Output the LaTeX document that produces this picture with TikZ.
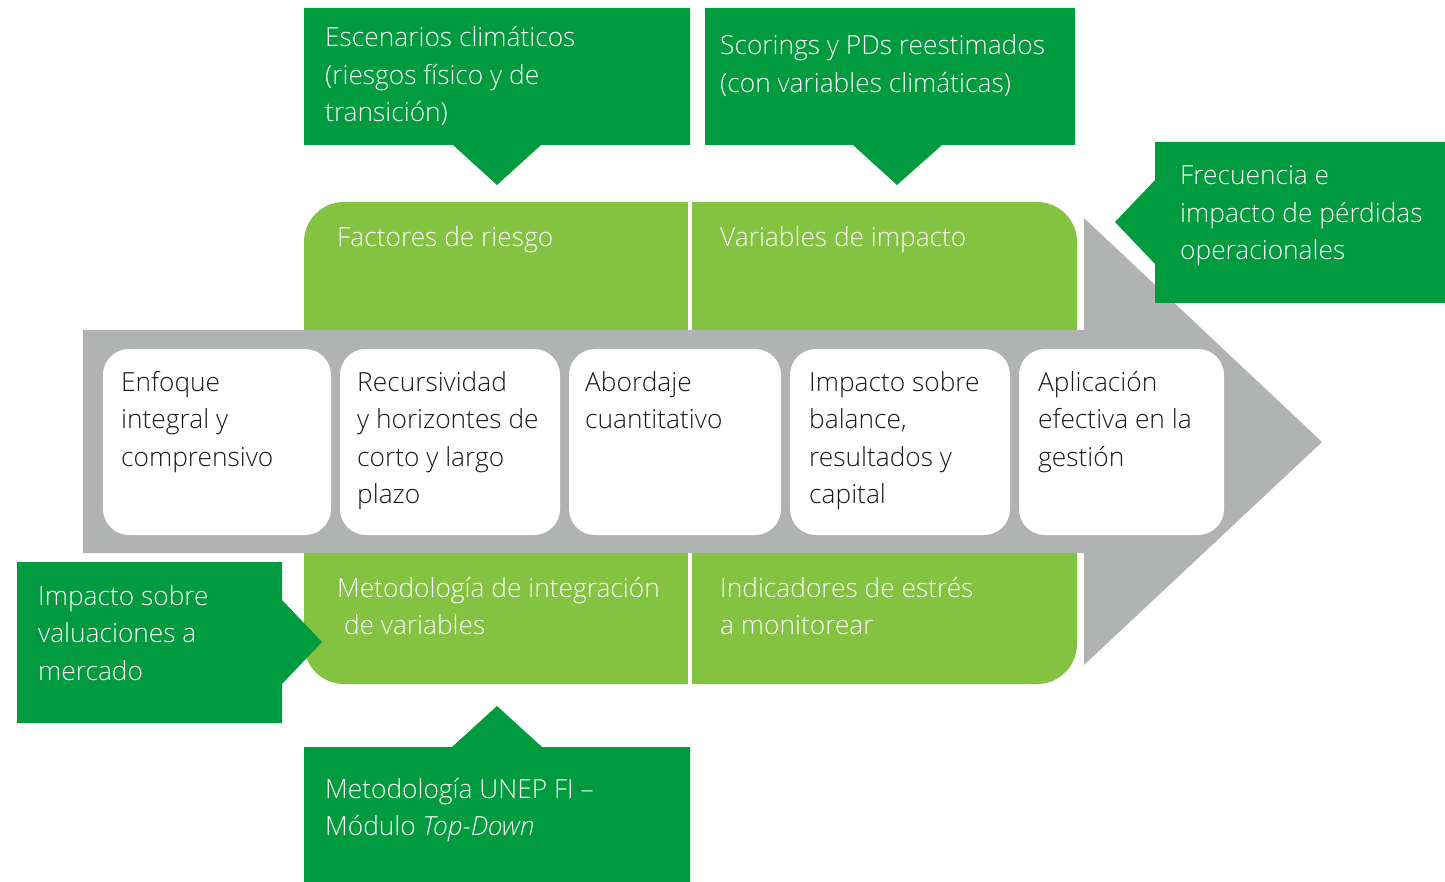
\documentclass[tikz,border=0pt]{standalone}
\usepackage{fontspec}
\setmainfont{Open Sans}[UprightFont={* Light}, ItalicFont={* Light Italic}, BoldFont={*}]
\definecolor{dgreen}{HTML}{009B3E}
\definecolor{lgreen}{HTML}{84C341}
\definecolor{agray}{HTML}{B1B3B3}
\definecolor{ink}{HTML}{1A1A1A}
\tikzset{
  callout/.style={fill=dgreen},
  panel/.style={fill=lgreen, rounded corners=40pt},
  arrowbody/.style={fill=agray},
  stagebox/.style={fill=white, rounded corners=26pt},
  txt/.style={anchor=base west, inner sep=0pt, align=left, font=\fontsize{26.3}{37.5}\selectfont},
  wtxt/.style={txt, text=white},
  ktxt/.style={txt, text=ink},
}
\begin{document}
\begin{tikzpicture}[x=1pt, y=-1pt]
\useasboundingbox (0,0) rectangle (1445,882);
% light green panels
\fill[panel] (304,202) rectangle (1077,684);
\fill[white] (688,202) rectangle (692,684);
% grey arrow
\fill[arrowbody] (83,330) -- (1084,330) -- (1084,218) -- (1322,442) -- (1084,665) -- (1084,553) -- (83,553) -- cycle;
% white stage boxes
\fill[stagebox] (103,349) rectangle (331,535);
\fill[stagebox] (340,349) rectangle (560,535);
\fill[stagebox] (569,349) rectangle (781,535);
\fill[stagebox] (790,349) rectangle (1010,535);
\fill[stagebox] (1019,349) rectangle (1224,535);
% dark green callouts
\fill[callout] (304,8) -- (690,8) -- (690,145) -- (541,145) -- (497,185) -- (453,145) -- (304,145) -- cycle;
\fill[callout] (705,8) -- (1075,8) -- (1075,145) -- (942,145) -- (897,185) -- (853,145) -- (705,145) -- cycle;
\fill[callout] (1155,142) -- (1445,142) -- (1445,303) -- (1155,303) -- (1155,264) -- (1115,222) -- (1155,180) -- cycle;
\fill[callout] (17,562) -- (282,562) -- (282,600) -- (322,642) -- (282,684) -- (282,723) -- (17,723) -- cycle;
\fill[callout] (304,747) -- (452,747) -- (497,706) -- (542,747) -- (690,747) -- (690,882) -- (304,882) -- cycle;
% callout texts (anchor = baseline of last line)
\node[wtxt] (c1) at (325,122) {Escenarios climáticos\\(riesgos físico y de\\transición)};
\node[wtxt] (c2) at (720,92.5) {Scorings y PDs reestimados\\(con variables climáticas)};
\node[wtxt] (c3) at (1180,260) {Frecuencia e\\impacto de pérdidas\\operacionales};
\node[wtxt] (c4) at (38,680) {Impacto sobre\\valuaciones a\\mercado};
\node[wtxt] (c5) at (325,835.5) {Metodología UNEP FI –\\Módulo \textit{Top-Down}};
% panel texts
\node[wtxt] (p1) at (337,247) {Factores de riesgo};
\node[wtxt] (p2) at (720,247) {Variables de impacto};
\node[wtxt] (p3) at (337,634.5) {Metodología de integración\\\ de variables};
\node[wtxt] (p4) at (720,634.5) {Indicadores de estrés\\a monitorear};
% stage texts
\node[ktxt] (s1) at (121,466) {Enfoque\\integral y\\comprensivo};
\node[ktxt] (s2) at (357,503.5) {Recursividad\\y horizontes de\\corto y largo\\plazo};
\node[ktxt] (s3) at (585,428.5) {Abordaje\\cuantitativo};
\node[ktxt] (s4) at (809,503.5) {Impacto sobre\\balance,\\resultados y\\capital};
\node[ktxt] (s5) at (1038,466) {Aplicación\\efectiva en la\\gestión};
\end{tikzpicture}
\end{document}
